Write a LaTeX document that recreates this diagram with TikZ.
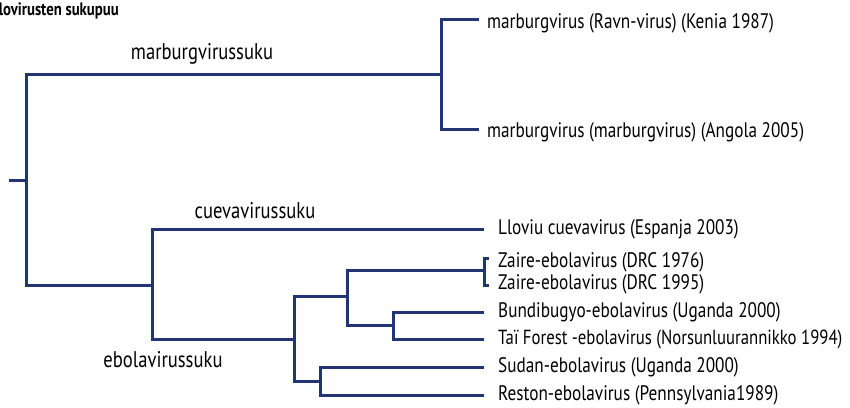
\documentclass[tikz,border=0pt]{standalone}
\usepackage{fontspec}
\setmainfont{PT Sans}[FakeStretch=0.82]
\usetikzlibrary{calc}
\definecolor{bleufilo}{RGB}{33,53,115}
\tikzstyle{arbre} = [draw=bleufilo, line width=3pt]
\tikzstyle{feuille} = [anchor=west, inner sep=0pt, font=\fontsize{21}{24}\selectfont]
\tikzstyle{clade} = [inner sep=0pt, font=\fontsize{22.7}{26}\selectfont]

\begin{document}
\begin{tikzpicture}[x=1pt, y=-1pt]

        \useasboundingbox (0,0) rectangle (850,407);

        \node (titre) [anchor=base east, inner sep=0pt, font=\fontsize{18}{20}\selectfont\bfseries] at (119,15) {Filovirusten sukupuu};

        \coordinate (souche) at (9,180);
        \coordinate (racine) at (26,180);
        \coordinate (marburg) at (441,74);
        \coordinate (cuevaebola) at (152,285);
        \coordinate (ebola) at (294,339);
        \coordinate (ebolaA) at (347,296);
        \coordinate (zaire) at (484,270);
        \coordinate (bundi) at (393,325);
        \coordinate (sudan) at (320,381);

        \node (m1) [feuille] at (487,23) {marburgvirus (Ravn-virus) (Kenia 1987)};
        \node (m2) [feuille] at (487,132) {marburgvirus (marburgvirus) (Angola 2005)};
        \node (c1) [feuille] at (498,229) {Lloviu cuevavirus (Espanja 2003)};
        \node (z1) [feuille] at (498,262) {Zaire-ebolavirus (DRC 1976)};
        \node (z2) [feuille] at (498,284) {Zaire-ebolavirus (DRC 1995)};
        \node (b1) [feuille] at (498,312) {Bundibugyo-ebolavirus (Uganda 2000)};
        \node (t1) [feuille, font=\fontsize{20.4}{24}\selectfont] at (498,339) {Taï Forest -ebolavirus (Norsunluurannikko 1994)};
        \node (s1) [feuille] at (498,367) {Sudan-ebolavirus (Uganda 2000)};
        \node (r1) [feuille] at (498,395) {Reston-ebolavirus (Pennsylvania1989)};

        \node (lmarburg) [clade] at (202,54) {marburgvirussuku};
        \node (lcueva) [clade] at (255,211) {cuevavirussuku};
        \node (lebola) [clade] at (163,360) {ebolavirussuku};

        \draw[arbre] (souche) -- (racine);
        \draw[arbre] (racine) |- (marburg);
        \draw[arbre] (racine) |- (cuevaebola);
        \draw[arbre] (marburg) |- ($(m1.west)+(-8,-4)$);
        \draw[arbre] (marburg) |- ($(m2.west)+(-8,-3)$);
        \draw[arbre] (cuevaebola) |- ($(c1.west)+(-14,0)$);
        \draw[arbre] (cuevaebola) |- (ebola);
        \draw[arbre] (ebola) |- (ebolaA);
        \draw[arbre] (ebola) |- (sudan);
        \draw[arbre] (ebolaA) |- (zaire);
        \draw[arbre] (ebolaA) |- (bundi);
        \draw[arbre] ($(z1.west)+(-9,-4)$) -| ($(z1.west)+(-14,-4)$) |- ($(z2.west)+(-9,1)$);
        \draw[arbre] (bundi) |- ($(b1.west)+(-14,0)$);
        \draw[arbre] (bundi) |- ($(t1.west)+(-14,0)$);
        \draw[arbre] (sudan) |- ($(s1.west)+(-14,0)$);
        \draw[arbre] (sudan) |- ($(r1.west)+(-14,0)$);

\end{tikzpicture}
\end{document}
